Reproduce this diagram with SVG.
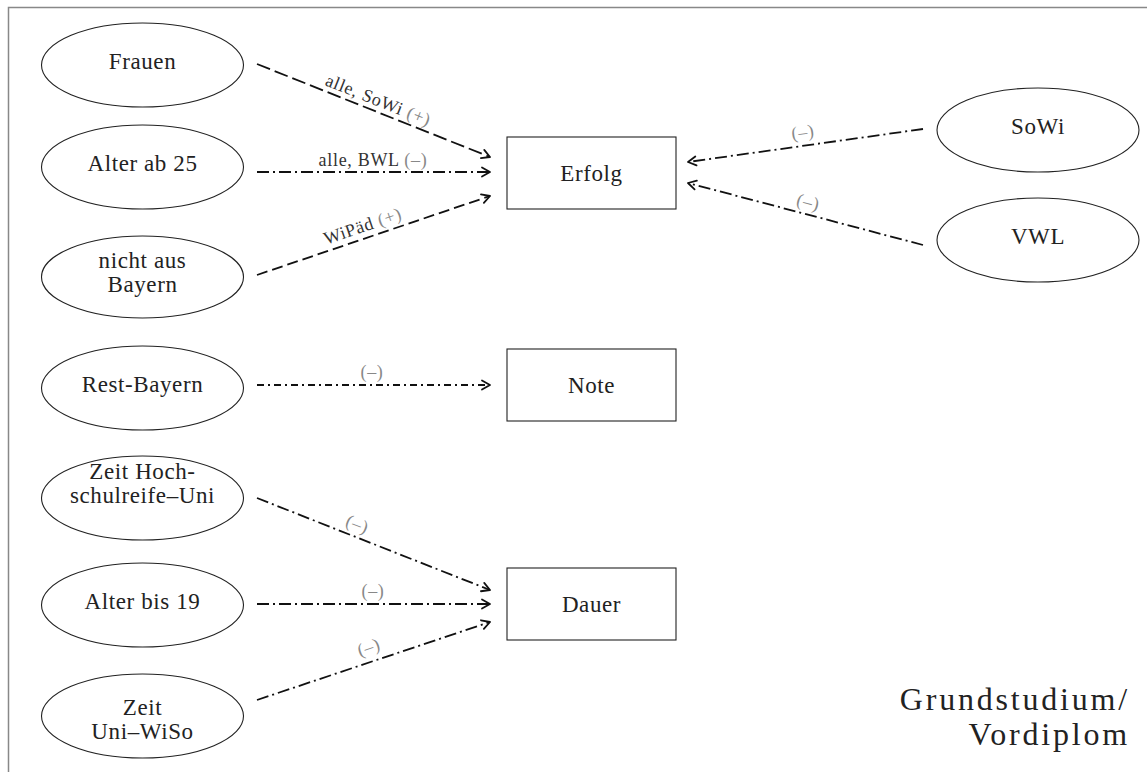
<svg xmlns="http://www.w3.org/2000/svg" width="1147" height="772" viewBox="0 0 1147 772">
<defs>
<marker id="arr" markerUnits="userSpaceOnUse" markerWidth="14" markerHeight="14" viewBox="-10 -7 12 14" refX="0" refY="0" orient="auto">
<path d="M -8 -4.5 L 0 0 L -8 4.5" fill="none" stroke="#111" stroke-width="1.8" stroke-linecap="round" stroke-linejoin="round"/>
</marker>
</defs>
<style>
.node ellipse, .node rect { fill: #fff; stroke: #222; stroke-width: 1.1; }
.node text { font-family: "Liberation Serif", serif; font-size: 23px; letter-spacing: 0.6px; fill: #222; text-anchor: middle; }
.e { fill: none; stroke: #111; stroke-width: 1.8; marker-end: url(#arr); }
.dash { stroke-dasharray: 14 5; }
.dash2 { stroke-dasharray: 11 5; }
.dd { stroke-dasharray: 12 4 2 4; }
.dd2 { stroke-dasharray: 7 4 2 4; }
.lbl { font-family: "Liberation Serif", serif; font-size: 18px; letter-spacing: 0.7px; fill: #333; text-anchor: middle; }
.g { fill: #888; }
.title { font-family: "Liberation Serif", serif; font-size: 32px; letter-spacing: 2.8px; fill: #222; text-anchor: end; }
</style>
<rect width="1147" height="772" fill="#fff"/>
<path d="M 8.5 772 L 8.5 7.5 L 1147 7.5" fill="none" stroke="#888" stroke-width="1.5"/>

<g id="edges">
<line class="e dash" x1="257" y1="64" x2="490" y2="157"/>
<line class="e dd" x1="257" y1="172" x2="490" y2="172"/>
<line class="e dash2" x1="257" y1="275" x2="490" y2="196"/>
<line class="e dd" x1="923" y1="129" x2="688" y2="162"/>
<line class="e dd" x1="923" y1="245" x2="688" y2="183"/>
<line class="e dd2" x1="257" y1="385" x2="490" y2="385"/>
<line class="e dd" x1="257" y1="498" x2="490" y2="590"/>
<line class="e dd" x1="257" y1="604" x2="490" y2="604"/>
<line class="e dd" x1="257" y1="700" x2="490" y2="622"/>

<text class="lbl" transform="translate(378,101) rotate(21.8)" y="5">alle, SoWi <tspan class="g">(+)</tspan></text>
<text class="lbl" x="373" y="166">alle, BWL <tspan class="g">(–)</tspan></text>
<text class="lbl" transform="translate(363,227) rotate(-18.7)" y="5">WiPäd <tspan class="g">(+)</tspan></text>
<text class="lbl g" transform="translate(803,133) rotate(-8)" y="5">(–)</text>
<text class="lbl g" transform="translate(808,203) rotate(14.8)" y="5">(–)</text>
<text class="lbl g" x="372" y="378">(–)</text>
<text class="lbl g" transform="translate(357,525) rotate(21.5)" y="5">(–)</text>
<text class="lbl g" x="373" y="597">(–)</text>
<text class="lbl g" transform="translate(369,648) rotate(-18.5)" y="5">(–)</text>
</g>

<g id="frauen" class="node"><ellipse cx="142.5" cy="65" rx="101" ry="42"/><text x="142.5" y="69">Frauen</text></g>
<g id="alter25" class="node"><ellipse cx="142.5" cy="167" rx="101" ry="42"/><text x="142.5" y="171">Alter ab 25</text></g>
<g id="nichtbayern" class="node"><ellipse cx="142.5" cy="277" rx="101" ry="41"/><text x="142.5" y="268">nicht aus</text><text x="142.5" y="292">Bayern</text></g>
<g id="restbayern" class="node"><ellipse cx="142.5" cy="388" rx="101" ry="42"/><text x="142.5" y="392">Rest-Bayern</text></g>
<g id="zeithoch" class="node"><ellipse cx="142.5" cy="498" rx="101" ry="42"/><text x="142.5" y="479">Zeit Hoch-</text><text x="142.5" y="503">schulreife–Uni</text></g>
<g id="alter19" class="node"><ellipse cx="142.5" cy="605" rx="101" ry="42"/><text x="142.5" y="609">Alter bis 19</text></g>
<g id="zeituni" class="node"><ellipse cx="142.5" cy="716" rx="101" ry="42"/><text x="142.5" y="715">Zeit</text><text x="142.5" y="739">Uni–WiSo</text></g>

<g id="erfolg" class="node"><rect x="507" y="137" width="169" height="72"/><text x="591.5" y="181">Erfolg</text></g>
<g id="note" class="node"><rect x="507" y="349" width="169" height="72"/><text x="591.5" y="393">Note</text></g>
<g id="dauer" class="node"><rect x="507" y="568" width="169" height="72"/><text x="591.5" y="612">Dauer</text></g>

<g id="sowi" class="node"><ellipse cx="1038" cy="130" rx="101" ry="42"/><text x="1038" y="134">SoWi</text></g>
<g id="vwl" class="node"><ellipse cx="1038" cy="240" rx="101" ry="42"/><text x="1038" y="244">VWL</text></g>

<text class="title" x="1130" y="710">Grundstudium/</text>
<text class="title" x="1130" y="745">Vordiplom</text>
</svg>
